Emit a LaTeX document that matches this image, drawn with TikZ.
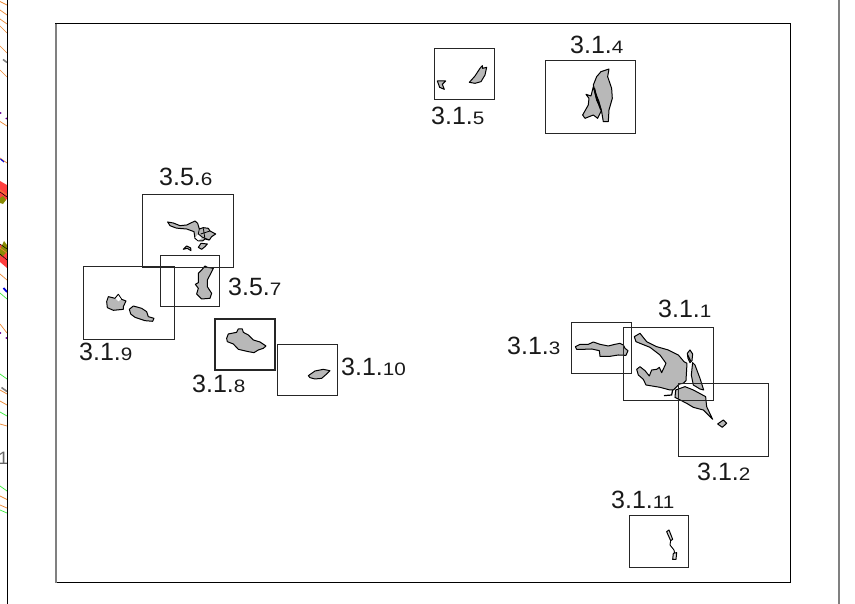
\documentclass[tikz,border=0pt]{standalone}
\usepackage{fontspec}
\setmainfont{Liberation Sans}
\newfontfamily\kleinziffern[FakeStretch=1.15]{Liberation Sans}
\definecolor{strichorange}{RGB}{235,135,50}
\definecolor{strichgruen}{RGB}{60,235,60}
\definecolor{inselgrau}{RGB}{184,184,184}
\newcommand{\nummer}[2]{#1{\kleinziffern\fontsize{18}{18}\selectfont #2}}
\begin{document}
\begin{tikzpicture}[x=1pt,y=-1pt]
\tikzset{kasten/.style={draw=black!85,line width=0.9pt},
 insel/.style={draw=black,fill=inselgrau,line width=1pt,line join=round},
 etikett/.style={anchor=base west,inner sep=0pt,font=\fontsize{25}{25}\selectfont,text=black!90},
 orangestrich/.style={draw=strichorange,line width=0.7pt},
 gruenstrich/.style={draw=strichgruen,line width=0.7pt},
 punkt/.style={circle,fill=violet!80!blue,inner sep=0.7pt}}
\useasboundingbox (0,0) rectangle (855,604);
\fill[white] (0,0) rectangle (855,604);
\fill[red!75!white] (0,181) -- (7,185) -- (7,199) -- (3,203) -- (0,200) -- cycle;
\fill[red!75!white] (0,244) -- (7,250) -- (7,268) -- (0,262) -- cycle;
\fill[olive!90!green] (0,198) -- (3,196) -- (6,200) -- (3,204) -- (0,203) -- cycle;
\fill[olive!90!green] (0,250) -- (4,241) -- (7,245) -- (7,252) -- (2,257) -- (0,255) -- cycle;
\draw[black,line width=0.5pt] (0,192) -- (7,197);
\draw[black,line width=0.5pt] (0,244) -- (7,249);
\draw[black,line width=0.5pt] (0,254) -- (7,260);
\draw[orangestrich] (0,190) -- (7,195);
\draw[orangestrich] (0,248) -- (7,253);
\draw[orangestrich] (0,1.5) -- (7,5);
\draw[orangestrich] (0,10) -- (7,15);
\draw[orangestrich] (0,19) -- (7,24);
\draw[orangestrich] (0,26) -- (7,33);
\draw[orangestrich] (0,46) -- (7,53);
\draw[orangestrich] (0,70) -- (7,77);
\draw[orangestrich] (0,121.5) -- (7,126);
\draw[orangestrich] (0,158) -- (7,163);
\draw[orangestrich] (0,274) -- (7,280);
\draw[orangestrich] (0,324) -- (7,333);
\draw[orangestrich] (0,390) -- (7,394);
\draw[orangestrich] (0,401) -- (7,405);
\draw[orangestrich] (0,424) -- (7,426);
\draw[orangestrich] (0,496) -- (7,499.5);
\draw[orangestrich] (0,505) -- (7,508);
\draw[gruenstrich] (0,293) -- (7,299);
\draw[gruenstrich] (0,374) -- (7,379);
\draw[gruenstrich] (0,412) -- (7,416);
\draw[gruenstrich] (0,486) -- (7,491);
\draw[gruenstrich] (0,510) -- (7,513);
\draw[blue!85!black,line width=1.1pt] (0.5,159) -- (4,162);
\draw[blue!85!black,line width=1.8pt] (3.5,288) -- (7,292);
\draw[gray,line width=1.6pt] (3,59.5) -- (7,62.5);
\draw[gray,line width=1.6pt] (1.5,387.5) -- (7,391.5);
\node[punkt] (p1) at (0.7,113) {};
\node[punkt] (p2) at (6.3,118.5) {};
\node[punkt] (p3) at (0.3,333) {};
\node[punkt] (p4) at (6.3,338) {};
\node[anchor=center,inner sep=0pt,text=black!60,font=\fontsize{18}{18}\selectfont] (eins) at (3.3,458.5) {1};
\fill[white] (8,0) rectangle (20,604);
\draw[black,line width=1pt] (7.5,0) -- (7.5,604);
\draw[gray,line width=1.8pt] (838.7,0) -- (838.7,604);

\begin{scope}[shift={(70,160)},x=0.3333pt,y=-0.3333pt]
\draw[insel] (293,186) -- (310,189) -- (330,197) -- (350,195) -- (375,183) -- (383,190) -- (388,207) -- (400,203) -- (415,205) -- (420,213) -- (437,222) -- (425,230) -- (418,240) -- (405,237) -- (398,243) -- (385,243) -- (375,235) -- (372,215) -- (350,207) -- (325,205) -- (318,204) -- (300,197) -- cycle;
\fill[white] (376,232) -- (385,222) -- (395,235) -- (385,241) -- cycle;
\draw[black,line width=0.8pt] (388,207) -- (385,222) -- (398,232) -- (418,240);
\draw[black,line width=0.8pt] (392,222) -- (420,213);
\draw[black,line width=0.8pt] (400,205) -- (405,237);
\draw[insel] (340,268) -- (350,258) -- (362,264) -- (363,272) -- (352,265) -- cycle;
\draw[insel] (385,262) -- (393,250) -- (412,252) -- (405,260) -- (395,268) -- cycle;
\draw[insel] (405,318) -- (412,322) -- (430,325) -- (420,345) -- (412,360) -- (412,380) -- (425,400) -- (420,415) -- (395,417) -- (380,402) -- (385,385) -- (376,373) -- (385,368) -- (385,340) -- (395,330) -- cycle;
\draw[insel] (110,425) -- (115,410) -- (135,415) -- (145,403) -- (155,418) -- (168,423) -- (160,440) -- (160,448) -- (130,451) -- (112,443) -- cycle;
\fill[white] (137,416) -- (145,406) -- (153,418) -- (145,424) -- cycle;
\draw[insel] (178,448) -- (190,438) -- (215,445) -- (230,455) -- (235,470) -- (252,475) -- (248,484) -- (225,482) -- (195,472) -- (182,462) -- cycle;
\draw[insel] (470,535) -- (475,522) -- (500,517) -- (505,507) -- (517,507) -- (520,517) -- (535,525) -- (550,540) -- (570,546) -- (588,558) -- (580,565) -- (565,570) -- (552,578) -- (535,575) -- (505,568) -- (490,552) -- (472,545) -- cycle;
\end{scope}

\begin{scope}[shift={(210,310)},x=0.3333pt,y=-0.3333pt]
\draw[insel] (295,197) -- (315,183) -- (340,178) -- (360,182) -- (350,192) -- (335,205) -- (315,207) -- (300,203) -- cycle;
\end{scope}

\begin{scope}[shift={(560,290)},x=0.3333pt,y=-0.3333pt]
\draw[insel] (46,170) -- (60,163) -- (85,163) -- (100,156) -- (120,163) -- (145,168) -- (165,163) -- (180,160) -- (190,165) -- (195,175) -- (204,182) -- (198,196) -- (175,195) -- (150,199) -- (120,199) -- (118,182) -- (95,177) -- (70,178) -- (50,178) -- cycle;
\draw[insel] (223,140) -- (240,130) -- (260,155) -- (290,170) -- (325,180) -- (355,195) -- (372,215) -- (381,220) -- (378,272) -- (370,280) -- (358,282) -- (340,300) -- (330,300) -- (300,292) -- (258,285) -- (250,268) -- (235,255) -- (230,238) -- (240,230) -- (255,242) -- (268,258) -- (275,240) -- (290,238) -- (298,232) -- (305,248) -- (318,220) -- (300,195) -- (270,172) -- (240,160) -- (228,155) -- cycle;
\draw[insel] (398,218) -- (405,225) -- (420,265) -- (431,300) -- (420,297) -- (400,285) -- (394,255) -- cycle;
\draw[insel] (382,190) -- (390,180) -- (398,192) -- (396,212) -- (390,218) -- (384,205) -- cycle;
\draw[black,line width=1.2pt] (383,195) -- (392,213);
\draw[black,line width=1.2pt] (312,317) -- (335,315) -- (338,300);
\draw[insel] (347,300) -- (375,290) -- (400,300) -- (437,320) -- (440,350) -- (458,388) -- (430,360) -- (400,352) -- (380,340) -- (345,322) -- cycle;
\draw[insel] (473,402) -- (490,390) -- (500,400) -- (487,412) -- cycle;
\end{scope}

\begin{scope}[shift={(425,30)},x=0.3333pt,y=-0.3333pt]
\draw[insel] (37,153) -- (62,153) -- (52,163) -- (58,178) -- (44,172) -- cycle;
\draw[insel] (133,157) -- (150,138) -- (165,115) -- (172,107) -- (173,115) -- (185,112) -- (180,135) -- (168,155) -- (150,160) -- cycle;
\draw[insel] (483,193) -- (498,198) -- (505,170) -- (515,210) -- (530,240) -- (518,265) -- (505,255) -- (480,265) -- (473,255) -- (490,225) -- (492,205) -- cycle;
\draw[insel] (505,165) -- (515,140) -- (528,125) -- (552,117) -- (548,140) -- (560,175) -- (562,205) -- (552,240) -- (550,275) -- (535,275) -- (530,245) -- (522,215) -- (512,190) -- cycle;
\draw[black,line width=1.6pt] (508,175) -- (515,205) -- (528,240);
\end{scope}

\begin{scope}[shift={(600,480)},x=0.3333pt,y=-0.3333pt]
\draw[insel,fill=inselgrau!50] (200,155) -- (207,150) -- (218,178) -- (212,182) -- cycle;
\draw[black,line width=0.9pt] (212,182) -- (210,195) -- (222,210) -- (224,220);
\draw[insel,fill=inselgrau!50] (220,220) -- (230,218) -- (228,238) -- (218,238) -- cycle;
\end{scope}

\draw[black,line width=1pt] (55.7,23.7) rectangle (790.5,582.7);
\draw[gray,line width=1.8pt] (55.7,23.7) -- (55.7,582.7);
\draw[kasten] (142.7,194.3) rectangle (233,267);
\draw[kasten] (83.7,266.7) rectangle (174,339.3);
\draw[kasten] (160.3,255.3) rectangle (219.7,306.7);
\draw[kasten,line width=2pt] (215.3,318.7) rectangle (275,369.7);
\draw[kasten] (277.7,344.3) rectangle (337,395.7);
\draw[kasten] (571.7,322.3) rectangle (631.3,373);
\draw[kasten] (623,327.7) rectangle (713.3,400.7);
\draw[kasten] (678,383.3) rectangle (768.3,456.3);
\draw[kasten] (434.3,48.7) rectangle (494,99.7);
\draw[kasten] (545,60.3) rectangle (635.7,133);
\draw[kasten] (629,515.3) rectangle (688.7,567);

\node[etikett] (t1) at (658,318) {\nummer{3.1.}{1}};
\node[etikett] (t2) at (697,480) {\nummer{3.1.}{2}};
\node[etikett] (t3) at (507,355) {\nummer{3.1.}{3}};
\node[etikett] (t4) at (570,54) {\nummer{3.1.}{4}};
\node[etikett] (t5) at (431,125) {\nummer{3.1.}{5}};
\node[etikett] (t6) at (159,186) {\nummer{3.5.}{6}};
\node[etikett] (t7) at (228,296) {\nummer{3.5.}{7}};
\node[etikett] (t8) at (192,392) {\nummer{3.1.}{8}};
\node[etikett] (t9) at (79,361) {\nummer{3.1.}{9}};
\node[etikett] (t10) at (341,376) {\nummer{3.1.}{10}};
\node[etikett] (t11) at (611,508) {\nummer{3.1.}{11}};
\end{tikzpicture}
\end{document}
